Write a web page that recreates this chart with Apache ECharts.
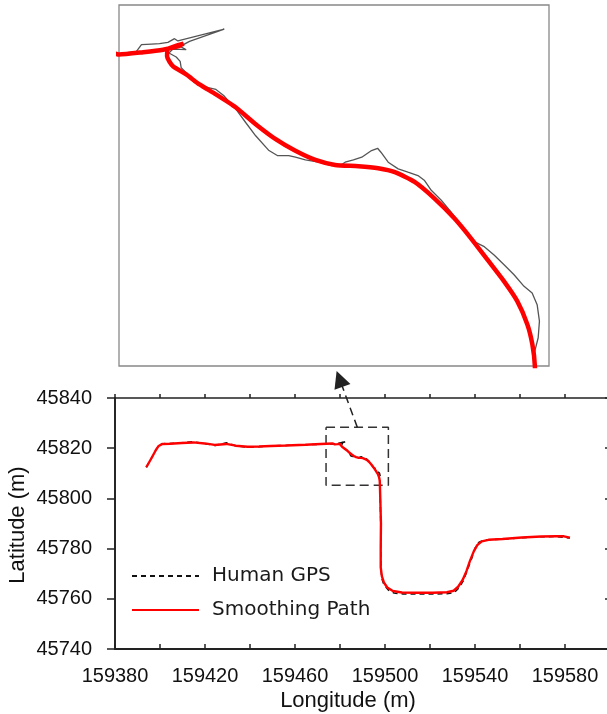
<!DOCTYPE html>
<html>
<head>
<meta charset="utf-8">
<script src="https://cdn.jsdelivr.net/npm/echarts@6/dist/echarts.min.js"></script>
<style>html,body{margin:0;padding:0;background:#fff}#c{width:607px;height:714px}</style>
</head>
<body>
<div id="c"></div>
<script>
// ---- Data (metres) ----
const xTicks = [159380, 159600, 20];
const yTicks = [45740, 45840, 20];

const gpsWest = [[159393.9,45812.4],[159396.2,45816.0],[159398.3,45819.5],[159399.7,45821.3],[159401.5,45821.8],[159405.0,45821.9],[159410.0,45822.2],[159414.8,45822.6],[159420.0,45821.8],[159424.5,45821.1],[159429.6,45822.2],[159433.7,45820.9],[159439.0,45820.4],[159444.0,45820.6],[159449.0,45820.9],[159456.0,45821.1],[159464.6,45821.3],[159471.5,45821.6],[159476.6,45821.7]];
const gpsBend = [[159477.70,45821.55],[159478.54,45821.67],[159478.78,45821.99],[159479.26,45822.02],[159479.65,45822.04],[159480.05,45822.10],[159480.37,45822.28],[159480.53,45822.17],[159482.76,45822.74],[159481.09,45822.15],[159480.64,45821.91],[159480.93,45821.75],[159480.29,45821.78],[159480.10,45821.59],[159480.45,45821.40],[159480.64,45821.19],[159480.69,45820.88],[159480.93,45820.64],[159481.25,45820.24],[159481.56,45820.03],[159482.04,45819.92],[159482.36,45819.84],[159482.76,45819.52],[159483.32,45818.89],[159483.79,45818.25],[159484.27,45817.61],[159484.91,45816.90],[159485.31,45816.66],[159485.86,45816.66],[159486.18,45816.58],[159486.66,45816.45],[159487.30,45816.34],[159487.93,45816.18],[159488.41,45816.23],[159488.57,45816.34],[159488.97,45816.45],[159489.37,45816.58],[159489.84,45816.90],[159490.13,45817.01],[159490.29,45816.82],[159490.64,45816.34],[159491.12,45816.02],[159491.59,45815.86],[159492.07,45815.70],[159492.39,45815.46],[159492.71,45814.99],[159493.19,45814.51],[159493.66,45813.95],[159494.14,45813.32],[159494.62,45812.60],[159494.94,45812.44],[159495.26,45812.28],[159495.73,45811.88],[159496.21,45811.41],[159496.69,45810.93],[159497.17,45810.37],[159497.56,45810.05],[159497.80,45809.49],[159497.91,45808.70],[159497.85,45807.90],[159497.69,45807.27],[159497.64,45806.55]];
const gpsEast = [[159497.9,45800.0],[159498.1,45790.0],[159498.1,45780.0],[159498.2,45772.0],[159498.6,45768.0],[159499.6,45765.5],[159501.5,45763.5],[159504.0,45762.3],[159508.0,45761.9],[159514.0,45761.9],[159521.0,45761.9],[159527.5,45762.0],[159530.8,45762.5],[159533.0,45764.5],[159535.0,45767.5],[159536.6,45771.5],[159538.5,45776.0],[159540.2,45780.5],[159541.8,45782.6],[159544.0,45783.4],[159548.0,45783.6],[159552.0,45783.7],[159560.8,45784.3],[159569.4,45784.7],[159576.2,45784.8],[159582.2,45784.2]];

const smoothWest = [[159393.9,45812.4],[159396.0,45815.7],[159398.0,45819.0],[159399.4,45820.9],[159401.1,45821.7],[159404.5,45821.8],[159409.7,45822.1],[159414.8,45822.3],[159419.9,45821.9],[159424.3,45821.3],[159429.4,45821.7],[159433.7,45821.0],[159438.9,45820.6],[159444.0,45820.7],[159449.2,45820.9],[159456.1,45821.1],[159464.6,45821.4],[159471.5,45821.7],[159476.6,45821.9]];
const smoothBend = [[159477.70,45821.52],[159478.86,45821.63],[159479.82,45821.75],[159480.61,45821.94],[159480.80,45822.04],[159480.05,45821.78],[159480.01,45821.43],[159480.29,45820.96],[159480.93,45820.56],[159481.57,45820.08],[159482.36,45819.60],[159483.32,45818.97],[159484.27,45818.17],[159485.23,45817.45],[159486.18,45816.89],[159487.14,45816.45],[159488.09,45816.21],[159489.21,45816.15],[159490.16,45816.05],[159490.96,45815.86],[159491.91,45815.39],[159492.87,45814.59],[159493.83,45813.63],[159494.62,45812.68],[159495.42,45811.64],[159496.21,45810.61],[159496.85,45809.65],[159497.33,45808.54],[159497.57,45807.58],[159497.69,45806.55]];
const smoothEast = [[159497.9,45800.0],[159498.2,45790.0],[159498.1,45780.5],[159498.1,45772.5],[159498.6,45769.0],[159499.5,45766.5],[159501.0,45764.5],[159503.5,45763.1],[159507.5,45762.5],[159514.4,45762.4],[159521.3,45762.4],[159527.5,45762.6],[159530.5,45763.2],[159532.5,45764.8],[159534.5,45767.5],[159536.2,45771.0],[159537.8,45775.2],[159539.5,45779.0],[159541.0,45781.4],[159543.0,45782.9],[159546.0,45783.5],[159552.2,45783.8],[159560.8,45784.4],[159569.4,45784.8],[159576.2,45784.9],[159579.5,45784.9],[159582.2,45784.4]];

// zoom window marked on the main plot, and the range shown in the inset
const zoomBoxX = [159473.8, 159501.5];
const zoomBoxY = [45805.2, 45828.3];
const insetX = [159477.7, 159498.37];
const insetY = [45806.54, 45823.9];
const arrowFrom = [159487.7, 45828.3];
const arrowTo = [159479.8, 45847.6];

const seriesNames = ['Human GPS', 'Smoothing Path'];
const xName = 'Longitude (m)';
const yName = 'Latitude (m)';

// ---- Chart ----
const gps = gpsWest.concat(gpsBend, gpsEast);
const smooth = smoothWest.concat(smoothBend, smoothEast);
const boxPath = [[zoomBoxX[0],zoomBoxY[1]],[zoomBoxX[1],zoomBoxY[1]],[zoomBoxX[1],zoomBoxY[0]],[zoomBoxX[0],zoomBoxY[0]],[zoomBoxX[0],zoomBoxY[1]]];

const FONT = 'Liberation Sans, Arial, sans-serif';
const chart = echarts.init(document.getElementById('c'), null, {renderer: 'canvas'});

chart.setOption({
  animation: false,
  backgroundColor: '#fff',
  grid: [
    {left: 115, top: 398, width: 495, height: 251, show: true, borderColor: '#222', borderWidth: 1.5, containLabel: false, outerBoundsMode: 'none'},
    {left: 119, top: 5, width: 430, height: 361, show: true, borderColor: '#888', borderWidth: 1.3, backgroundColor: '#fff', containLabel: false, outerBoundsMode: 'none'}
  ],
  xAxis: [
    {gridIndex: 0, type: 'value', min: xTicks[0], max: xTicks[1], interval: xTicks[2],
     axisLine: {lineStyle: {color: '#222', width: 1.8}},
     axisTick: {inside: true, length: 5, lineStyle: {color: '#222', width: 1.5}},
     splitLine: {show: false},
     axisLabel: {margin: 17, fontFamily: FONT, fontSize: 20, color: '#111',
       formatter: v => ((v - xTicks[0]) % 40 === 0 && v < xTicks[1]) ? String(v) : ''}},
    {gridIndex: 0, type: 'value', min: xTicks[0], max: xTicks[1], interval: xTicks[2],
     axisLine: {show: false}, axisLabel: {show: false}, splitLine: {show: false},
     axisTick: {inside: false, length: 4, lineStyle: {color: '#222', width: 1.5}}},
    {gridIndex: 1, type: 'value', min: insetX[0], max: insetX[1], show: false}
  ],
  yAxis: [
    {gridIndex: 0, type: 'value', min: yTicks[0], max: yTicks[1], interval: yTicks[2],
     axisLine: {lineStyle: {color: '#222', width: 1.8}},
     axisTick: {inside: false, length: 8, lineStyle: {color: '#222', width: 1.5}},
     splitLine: {show: false},
     axisLabel: {margin: 23, fontFamily: FONT, fontSize: 20, color: '#111', formatter: v => String(v)}},
    {gridIndex: 0, type: 'value', min: yTicks[0], max: yTicks[1], interval: yTicks[2],
     axisLine: {show: false}, axisLabel: {show: false}, splitLine: {show: false},
     axisTick: {inside: true, length: 5, lineStyle: {color: '#222', width: 1.5}}},
    {gridIndex: 1, type: 'value', min: insetY[0], max: insetY[1], show: false}
  ],
  legend: {
    data: seriesNames, orient: 'vertical', left: 131, top: 566, padding: 0,
    itemWidth: 67, itemHeight: 14, itemGap: 14,
    itemStyle: {opacity: 0},
    textStyle: {fontFamily: 'DejaVu Sans, Noto Sans, sans-serif', fontSize: 20, color: '#1a1a1a', padding: [0,0,0,8]}
  },
  series: [
    {name: seriesNames[0], type: 'line', xAxisIndex: 0, yAxisIndex: 0, data: gps, symbol: 'none', z: 3,
     lineStyle: {color: '#111', width: 1.5, type: [5, 4]}, itemStyle: {color: '#111'}},
    {name: seriesNames[1], type: 'line', xAxisIndex: 0, yAxisIndex: 0, data: smooth, symbol: 'none', z: 4,
     lineStyle: {color: '#ff0000', width: 2.4}, itemStyle: {color: '#ff0000'}},
    {name: 'inset-gps', type: 'line', xAxisIndex: 2, yAxisIndex: 2, data: gps, symbol: 'none', z: 5,
     lineStyle: {color: '#555', width: 1.3}},
    {name: 'inset-smooth', type: 'line', xAxisIndex: 2, yAxisIndex: 2, data: smooth, symbol: 'none', z: 6, smooth: 0.2,
     lineStyle: {color: '#ff0000', width: 4.5}},
    {name: 'zoom-box', type: 'line', xAxisIndex: 0, yAxisIndex: 0, data: boxPath, symbol: 'none', z: 2,
     lineStyle: {color: '#333', width: 1.5, type: [9, 5]}},
    {name: 'zoom-arrow', type: 'lines', coordinateSystem: 'cartesian2d', xAxisIndex: 0, yAxisIndex: 0, clip: false, z: 7,
     symbol: ['none', 'triangle'], symbolSize: [16, 17],
     lineStyle: {color: '#222', width: 1.5, type: [8, 5], opacity: 1},
     data: [{coords: [arrowFrom, arrowTo]}]}
  ],
  graphic: [
    {type: 'text', x: 348, y: 701, style: {text: xName, fontFamily: FONT, fontSize: 22, fill: '#111', textAlign: 'center', textVerticalAlign: 'middle'}},
    {type: 'text', x: 18, y: 525, rotation: Math.PI / 2, style: {text: yName, fontFamily: FONT, fontSize: 22, fill: '#111', textAlign: 'center', textVerticalAlign: 'middle'}}
  ]
});
</script>
</body>
</html>
